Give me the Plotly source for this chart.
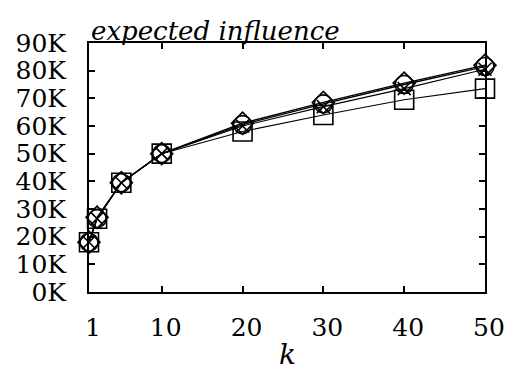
import plotly.graph_objects as go

k_values = [1, 2, 5, 10, 20, 30, 40, 50]
series_square = [18000, 26500, 39500, 50000, 58000, 64000, 69500, 73500]
series_diamond = [18000, 27000, 39500, 50000, 61000, 68500, 75500, 82000]
series_circle = [18000, 26500, 39500, 50000, 60500, 68000, 75000, 81500]
series_cross = [18000, 26500, 39500, 50000, 60000, 67000, 73500, 80500]

y_tickvals = [0, 10000, 20000, 30000, 40000, 50000, 60000, 70000, 80000, 90000]
y_ticktext = ["0K", "10K", "20K", "30K", "40K", "50K", "60K", "70K", "80K", "90K"]
x_tickvals = [1, 10, 20, 30, 40, 50]
x_ticktext = ["1", "10", "20", "30", "40", "50"]

FONT = "DejaVu Serif"

fig = go.Figure()
specs = [
    (series_square, "square-open", 19, 1.1),
    (series_cross, "x-thin-open", 13, 1.1),
    (series_circle, "circle-open", 18, 1.3),
    (series_diamond, "diamond-open", 17, 1.3),
]
for ys, sym, size, lw in specs:
    fig.add_trace(go.Scatter(
        x=k_values, y=ys, mode="lines+markers",
        line=dict(color="black", width=lw),
        marker=dict(symbol=sym, size=size, color="black",
                    line=dict(color="black", width=1.6)),
        cliponaxis=False, showlegend=False,
    ))

fig.update_layout(
    width=517, height=372,
    margin=dict(l=89, r=25, t=43, b=80),
    paper_bgcolor="white", plot_bgcolor="white",
    showlegend=False,
)
fig.update_xaxes(
    range=[1, 50], tickvals=x_tickvals, ticktext=x_ticktext,
    showgrid=False, zeroline=False,
    showline=True, linecolor="black", linewidth=2, mirror="allticks",
    ticks="inside", ticklen=6, tickwidth=1.5, tickcolor="black",
    tickfont=dict(family=FONT, size=25, color="black"),
    ticklabelstandoff=12, ticklabelshift=4,
)
fig.update_yaxes(
    range=[0, 90000], tickvals=y_tickvals, ticktext=y_ticktext,
    showgrid=False, zeroline=False,
    showline=True, linecolor="black", linewidth=2, mirror="allticks",
    ticks="inside", ticklen=6, tickwidth=1.5, tickcolor="black",
    tickfont=dict(family=FONT, size=25, color="black"),
    ticklabelstandoff=16,
)
fig.add_annotation(
    text="<i>expected influence</i>", xref="paper", yref="paper",
    x=0, y=1, xanchor="left", yanchor="bottom", showarrow=False,
    font=dict(family=FONT, size=26, color="black"), yshift=-5,
)
fig.add_annotation(
    text="<i>k</i>", xref="paper", yref="paper",
    x=0.5, y=0, xanchor="center", yanchor="top", showarrow=False,
    font=dict(family=FONT, size=28, color="black"), yshift=-44,
)
fig.write_html("out.html")
